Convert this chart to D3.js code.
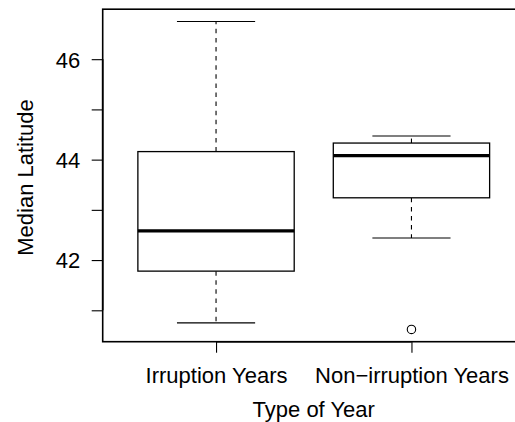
<!DOCTYPE html>
<html>
<head>
<meta charset="utf-8">
<script src="https://cdn.jsdelivr.net/npm/d3@7"></script>
<style>
  html, body { margin: 0; padding: 0; background: #fff; }
  svg { display: block; }
  text { font-family: "Liberation Sans", Arial, Helvetica, sans-serif; fill: #000; }
</style>
</head>
<body>
<svg id="chart" width="515" height="422"></svg>
<script>
// Box-plot summaries of median latitude by type of year
const categories = ["Irruption Years", "Non\u2212irruption Years"];
const lowerWhisker = [40.75, 42.44];
const q1 = [41.78, 43.24];
const median = [42.58, 44.08];
const q3 = [44.16, 44.33];
const upperWhisker = [46.75, 44.47];
const outliers = [[], [40.62]];
const yTicks = [41, 42, 43, 44, 45, 46];
const yTickLabels = [42, 44, 46];

const FONT = 22;
const plot = { left: 102.7, top: 9.2, right: 524.8, bottom: 341.7 };

const svg = d3.select("#chart");

// Data range padded by 4% on each side
const allVals = lowerWhisker.concat(upperWhisker, outliers.flat());
const [ymin, ymax] = d3.extent(allVals);
const pad = (ymax - ymin) * 0.04;
const y = d3.scaleLinear().domain([ymin - pad, ymax + pad]).range([plot.bottom, plot.top]);

// Groups sit at positions 1..n, with the same 4% padding around [0.5, n + 0.5]
const n = categories.length;
const xPad = n * 0.04;
const x = d3.scaleLinear().domain([0.5 - xPad, n + 0.5 + xPad]).range([plot.left, plot.right]);
const halfBox = 0.4, halfStaple = 0.2;

const g = svg.append("g");

categories.forEach((c, i) => {
  const cx = x(i + 1);
  const bx0 = x(i + 1 - halfBox), bx1 = x(i + 1 + halfBox);
  const sx0 = x(i + 1 - halfStaple), sx1 = x(i + 1 + halfStaple);

  // dashed whiskers
  g.append("line").attr("x1", cx).attr("x2", cx)
    .attr("y1", y(q3[i])).attr("y2", y(upperWhisker[i]))
    .attr("stroke", "#000").attr("stroke-width", 1.1).attr("stroke-dasharray", "4.5,4.6");
  g.append("line").attr("x1", cx).attr("x2", cx)
    .attr("y1", y(q1[i])).attr("y2", y(lowerWhisker[i]))
    .attr("stroke", "#000").attr("stroke-width", 1.1).attr("stroke-dasharray", "4.5,4.6");

  // staples
  [upperWhisker[i], lowerWhisker[i]].forEach(v => {
    g.append("line").attr("x1", sx0).attr("x2", sx1)
      .attr("y1", y(v)).attr("y2", y(v))
      .attr("stroke", "#000").attr("stroke-width", 1.2);
  });

  // box
  g.append("rect")
    .attr("x", bx0).attr("y", y(q3[i]))
    .attr("width", bx1 - bx0).attr("height", y(q1[i]) - y(q3[i]))
    .attr("fill", "#fff").attr("stroke", "#000").attr("stroke-width", 1.3);

  // median
  g.append("line").attr("x1", bx0).attr("x2", bx1)
    .attr("y1", y(median[i])).attr("y2", y(median[i]))
    .attr("stroke", "#000").attr("stroke-width", 3.3);

  // outliers
  outliers[i].forEach(v => {
    g.append("circle").attr("cx", cx).attr("cy", y(v)).attr("r", 4.2)
      .attr("fill", "none").attr("stroke", "#000").attr("stroke-width", 1.1);
  });
});

// plot frame
svg.append("rect")
  .attr("x", plot.left).attr("y", plot.top)
  .attr("width", plot.right - plot.left).attr("height", plot.bottom - plot.top)
  .attr("fill", "none").attr("stroke", "#000").attr("stroke-width", 1.6);

// left axis
const yAxis = d3.axisLeft(y).tickValues(yTicks).tickSize(11).tickSizeOuter(0)
  .tickFormat(d => yTickLabels.includes(d) ? d3.format("d")(d) : "");
const ya = svg.append("g").attr("transform", `translate(${plot.left},0)`).call(yAxis);
ya.select(".domain").attr("d", `M0,${y(yTicks[0])}V${y(yTicks[yTicks.length - 1])}`)
  .attr("stroke", "#000").attr("stroke-width", 1.6);
ya.selectAll(".tick line").attr("stroke", "#000").attr("stroke-width", 1.1);
ya.selectAll(".tick text").attr("x", -22.5).attr("dy", "0.36em")
  .attr("font-size", FONT).attr("font-family", "Liberation Sans, Arial, sans-serif");

// bottom axis
const xAxis = d3.axisBottom(x).tickValues(d3.range(1, n + 1)).tickSize(11).tickSizeOuter(0)
  .tickFormat(d => categories[d - 1]);
const xa = svg.append("g").attr("transform", `translate(0,${plot.bottom})`).call(xAxis);
xa.select(".domain").attr("d", `M${x(1)},0H${x(n)}`)
  .attr("stroke", "#000").attr("stroke-width", 1.6);
xa.selectAll(".tick line").attr("stroke", "#000").attr("stroke-width", 1.1);
xa.selectAll(".tick text").attr("y", 41.5).attr("dy", null)
  .attr("font-size", FONT).attr("font-family", "Liberation Sans, Arial, sans-serif");

// axis titles
svg.append("text")
  .attr("x", x(1.5)).attr("y", 417)
  .attr("text-anchor", "middle").attr("font-size", FONT)
  .text("Type of Year");

svg.append("text")
  .attr("transform", `translate(33,${(plot.top + plot.bottom) / 2 + 2}) rotate(-90)`)
  .attr("text-anchor", "middle").attr("font-size", FONT)
  .text("Median Latitude");
</script>
</body>
</html>
